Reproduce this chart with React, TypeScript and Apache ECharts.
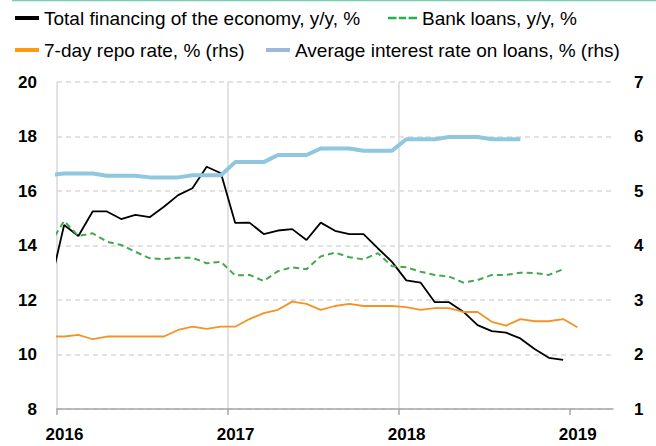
import React, { useEffect, useRef } from "react";
import * as echarts from "echarts";

// Months from Dec 2015 to Jan 2019 (monthly observations)
const months: string[] = [
  "2015-12",
  "2016-01", "2016-02", "2016-03", "2016-04", "2016-05", "2016-06", "2016-07", "2016-08", "2016-09", "2016-10", "2016-11", "2016-12",
  "2017-01", "2017-02", "2017-03", "2017-04", "2017-05", "2017-06", "2017-07", "2017-08", "2017-09", "2017-10", "2017-11", "2017-12",
  "2018-01", "2018-02", "2018-03", "2018-04", "2018-05", "2018-06", "2018-07", "2018-08", "2018-09", "2018-10", "2018-11", "2018-12",
  "2019-01",
];

const totalFinancing: (number | null)[] = [
  12.5,
  14.75, 14.35, 15.25, 15.25, 14.97, 15.12, 15.04, 15.42, 15.85, 16.1, 16.89, 16.65,
  14.83, 14.84, 14.42, 14.55, 14.6, 14.2, 14.84, 14.54, 14.42, 14.42, 13.9, 13.4,
  12.72, 12.64, 11.92, 11.92, 11.57, 11.08, 10.86, 10.8, 10.59, 10.2, 9.88, 9.8,
  null,
];

const bankLoans: (number | null)[] = [
  14.05,
  14.9, 14.35, 14.45, 14.14, 14.02, 13.77, 13.53, 13.5, 13.55, 13.55, 13.35, 13.4,
  12.9, 12.92, 12.7, 13.06, 13.2, 13.13, 13.6, 13.74, 13.57, 13.49, 13.72, 13.24,
  13.2, 13.04, 12.92, 12.86, 12.64, 12.73, 12.92, 12.92, 13.0, 12.99, 12.92, 13.13,
  null,
];

const repoRate: (number | null)[] = [
  2.33,
  2.33, 2.36, 2.28, 2.33, 2.33, 2.33, 2.33, 2.33, 2.45, 2.51, 2.47, 2.51,
  2.51, 2.65, 2.76, 2.82, 2.97, 2.93, 2.82, 2.89, 2.93, 2.89, 2.89, 2.89,
  2.87, 2.82, 2.85, 2.85, 2.78, 2.78, 2.6, 2.53, 2.65, 2.61, 2.61, 2.65,
  2.5,
];

const avgLoanRate: (number | null)[] = [
  5.29,
  5.32, 5.32, 5.32, 5.28, 5.28, 5.28, 5.25, 5.25, 5.25, 5.29, 5.29, 5.29,
  5.53, 5.53, 5.53, 5.66, 5.66, 5.66, 5.78, 5.78, 5.78, 5.74, 5.74, 5.74,
  5.95, 5.95, 5.95, 5.99, 5.99, 5.99, 5.95, 5.95, 5.95, null, null, null,
  null,
];

const yearTicks: number[] = [2016, 2017, 2018, 2019];
const seriesNames: string[] = [
  "Total financing of the economy, y/y, %",
  "Bank loans, y/y, %",
  "7-day repo rate, % (rhs)",
  "Average interest rate on loans, % (rhs)",
];

// x position in months since Jan 2016 start, plotted mid-month
const monthX = (m: string): number => {
  const [y, mo] = m.split("-").map(Number);
  return (y - 2016) * 12 + (mo - 1) + 0.5;
};
const toPairs = (vals: (number | null)[]) =>
  months.map((m, i) => [monthX(m), vals[i]]).filter((p) => p[1] !== null);

const FONT = "'Liberation Sans', Arial, sans-serif";
const DASH_ICON = "path://M0,0H7V2H0Z M9,0H15V2H9Z M17,0H24V2H17Z";

export default function App() {
  const ref = useRef<HTMLDivElement>(null);
  useEffect(() => {
    if (!ref.current) return;
    const chart = echarts.init(ref.current, undefined, { renderer: "svg" });
    const tickVals = yearTicks.map((y) => (y - 2016) * 12);
    const legendBase = {
      padding: 0,
      itemWidth: 24,
      itemHeight: 4,
      icon: "rect",
      textStyle: { fontSize: 19, fontFamily: FONT, color: "#000", lineHeight: 24 },
    };
    chart.setOption({
      animation: false,
      backgroundColor: "#fff",
      graphic: [
        { type: "rect", left: 12, top: 0, shape: { width: 644, height: 1.3 }, style: { fill: "#7ccbb5" } },
      ],
      legend: [
        { ...legendBase, data: [{ name: seriesNames[0], itemStyle: { color: "#000" } }], left: 15, top: 6 },
        {
          ...legendBase,
          itemWidth: 29,
          data: [{ name: seriesNames[1], icon: DASH_ICON, itemStyle: { color: "#22b14c" } }],
          left: 388,
          top: 6,
        },
        { ...legendBase, data: [{ name: seriesNames[2], itemStyle: { color: "#ff9a10" } }], left: 15, top: 38 },
        { ...legendBase, data: [{ name: seriesNames[3], itemStyle: { color: "#9db8de" } }], left: 266, top: 38 },
      ],
      grid: { left: 57, right: 43, top: 82, bottom: 37, containLabel: false },
      xAxis: {
        type: "value",
        min: 0,
        max: 39,
        interval: 12,
        axisLine: { show: true, lineStyle: { color: "#a6a6a6", width: 1.5 } },
        axisTick: { show: true, length: 6, lineStyle: { color: "#a6a6a6", width: 1.5 }, customValues: tickVals },
        axisLabel: {
          customValues: tickVals,
          formatter: (v: number) => String(2016 + Math.round(v / 12)),
          fontSize: 17,
          fontWeight: "bold",
          fontFamily: FONT,
          color: "#000",
          margin: 17,
          padding: [0, 0, 0, 15],
        },
        splitLine: { show: true, showMaxLine: false, lineStyle: { color: "#d9d9d9", width: 1.5, type: "solid" } },
      },
      yAxis: [
        {
          type: "value",
          min: 8,
          max: 20,
          interval: 2,
          axisLine: { show: false },
          axisTick: { show: false },
          axisLabel: { fontSize: 17, fontWeight: "bold", fontFamily: FONT, color: "#000", margin: 20 },
          splitLine: { show: true, lineStyle: { color: "#d9d9d9", width: 1.5, type: [5, 4] } },
        },
        {
          type: "value",
          min: 1,
          max: 7,
          interval: 1,
          position: "right",
          axisLine: { show: false },
          axisTick: { show: false },
          axisLabel: { fontSize: 17, fontWeight: "bold", fontFamily: FONT, color: "#000", margin: 21 },
          splitLine: { show: false },
        },
      ],
      series: [
        {
          name: seriesNames[0],
          type: "line",
          yAxisIndex: 0,
          data: toPairs(totalFinancing),
          symbol: "none",
          clip: true,
          lineStyle: { color: "#000", width: 1.8 },
          itemStyle: { color: "#000" },
        },
        {
          name: seriesNames[1],
          type: "line",
          yAxisIndex: 0,
          data: toPairs(bankLoans),
          symbol: "none",
          clip: true,
          lineStyle: { color: "#44a84e", width: 2, type: [6, 4] },
          itemStyle: { color: "#44a84e" },
        },
        {
          name: seriesNames[2],
          type: "line",
          yAxisIndex: 1,
          data: toPairs(repoRate),
          symbol: "none",
          clip: true,
          lineStyle: { color: "#f39325", width: 1.8 },
          itemStyle: { color: "#f39325" },
        },
        {
          name: seriesNames[3],
          type: "line",
          yAxisIndex: 1,
          data: toPairs(avgLoanRate),
          symbol: "none",
          clip: true,
          lineStyle: { color: "#8fc6e0", width: 4 },
          itemStyle: { color: "#8fc6e0" },
        },
      ],
    });
    return () => chart.dispose();
  }, []);
  return (
    <div
      ref={ref}
      style={{ position: "fixed", left: 0, top: 0, width: 656, height: 446, background: "#fff" }}
    />
  );
}
